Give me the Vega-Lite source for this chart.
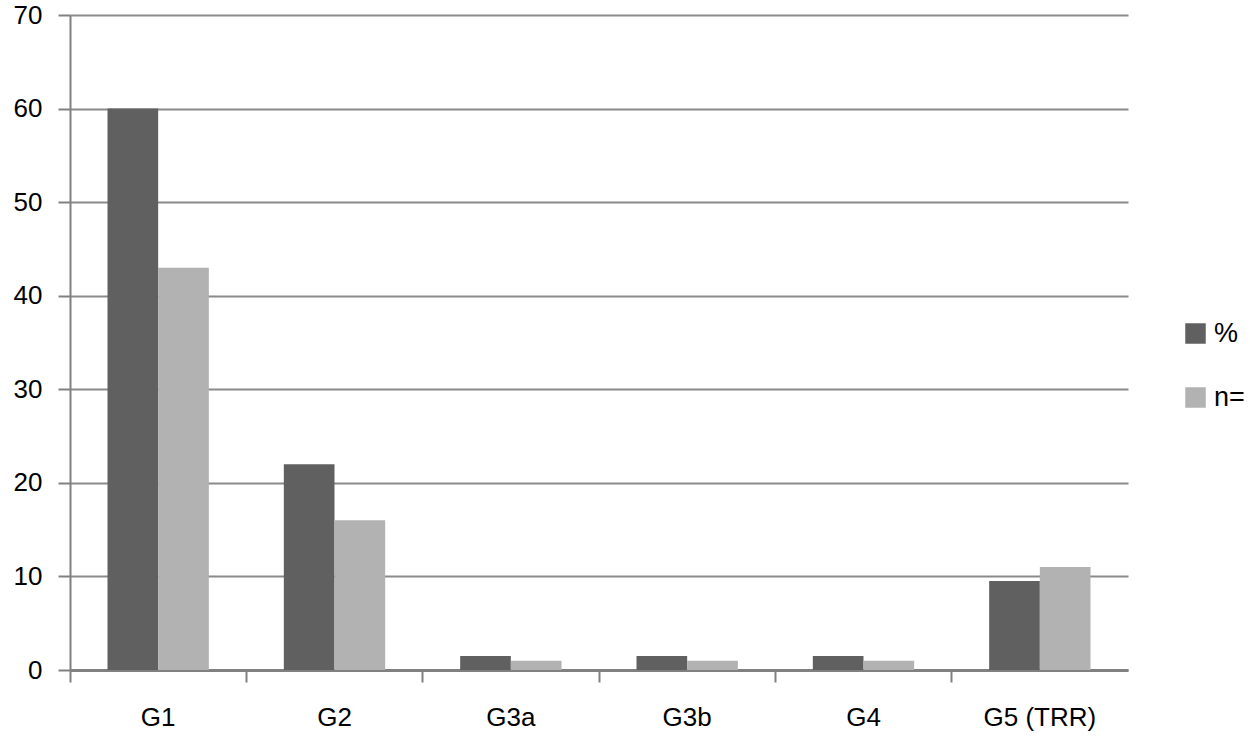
{
  "$schema": "https://vega.github.io/schema/vega-lite/v6.json",
  "autosize": {"type": "none"},
  "padding": {"left": 70, "top": 15, "right": 122, "bottom": 66},
  "width": 1058,
  "height": 655,
  "background": "white",
  "config": {"view": {"stroke": null}, "font": "Liberation Sans"},
  "data": {
    "values": [
      {"group": "G1", "series": "%", "value": 60},
      {"group": "G1", "series": "n=", "value": 43},
      {"group": "G2", "series": "%", "value": 22},
      {"group": "G2", "series": "n=", "value": 16},
      {"group": "G3a", "series": "%", "value": 1.5},
      {"group": "G3a", "series": "n=", "value": 1},
      {"group": "G3b", "series": "%", "value": 1.5},
      {"group": "G3b", "series": "n=", "value": 1},
      {"group": "G4", "series": "%", "value": 1.5},
      {"group": "G4", "series": "n=", "value": 1},
      {"group": "G5 (TRR)", "series": "%", "value": 9.5},
      {"group": "G5 (TRR)", "series": "n=", "value": 11}
    ]
  },
  "mark": {"type": "bar"},
  "encoding": {
    "x": {
      "field": "group",
      "type": "nominal",
      "sort": null,
      "scale": {"paddingInner": 0, "paddingOuter": 0},
      "axis": {
        "title": null,
        "labelAngle": 0,
        "bandPosition": 0,
        "labelFontSize": 26,
        "labelColor": "black",
        "labelPadding": 22,
        "tickSize": 12,
        "tickWidth": 2,
        "tickColor": "#808080",
        "domainColor": "#808080",
        "domainWidth": 3
      }
    },
    "xOffset": {
      "field": "series",
      "type": "nominal",
      "scale": {"paddingInner": 0, "paddingOuter": 0.74}
    },
    "y": {
      "field": "value",
      "type": "quantitative",
      "scale": {"domain": [0, 70]},
      "axis": {
        "title": null,
        "values": [0, 10, 20, 30, 40, 50, 60, 70],
        "labelFontSize": 26,
        "labelColor": "black",
        "labelPadding": 16,
        "tickSize": 12,
        "tickWidth": 2,
        "tickColor": "#808080",
        "domainColor": "#808080",
        "domainWidth": 2,
        "grid": true,
        "gridColor": "#8a8a8a",
        "gridWidth": 2
      }
    },
    "color": {
      "field": "series",
      "type": "nominal",
      "scale": {"domain": ["%", "n="], "range": ["#606060", "#b2b2b2"]},
      "legend": {
        "title": null,
        "orient": "none",
        "legendX": 1112,
        "legendY": 305,
        "symbolType": "square",
        "symbolSize": 420,
        "symbolStrokeWidth": 0,
        "labelFontSize": 27,
        "labelColor": "black",
        "rowPadding": 36,
        "labelOffset": 5
      }
    }
  }
}
